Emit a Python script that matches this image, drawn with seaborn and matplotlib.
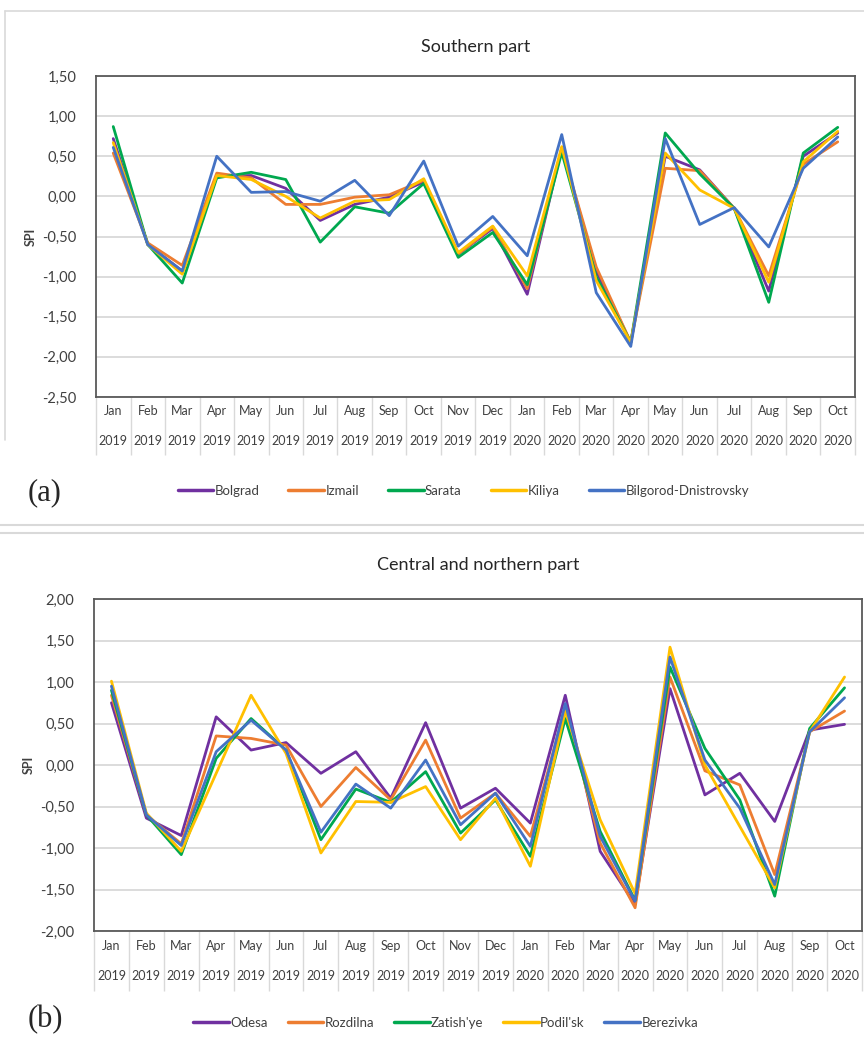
# SPI par station, sud et centre/nord (2019-2020)

import numpy as np
import pandas as pd
import matplotlib
matplotlib.use("Agg")
import matplotlib.pyplot as plt
import seaborn as sns
from matplotlib.ticker import FuncFormatter
from matplotlib.lines import Line2D

months = ["Jan", "Feb", "Mar", "Apr", "May", "Jun", "Jul", "Aug", "Sep", "Oct", "Nov", "Dec",
          "Jan", "Feb", "Mar", "Apr", "May", "Jun", "Jul", "Aug", "Sep", "Oct"]
years = ["2019", "2019", "2019", "2019", "2019", "2019", "2019", "2019", "2019", "2019", "2019", "2019",
         "2020", "2020", "2020", "2020", "2020", "2020", "2020", "2020", "2020", "2020"]

# (a) partie sud
south_names = ["Bolgrad", "Izmail", "Sarata", "Kiliya", "Bilgorod-Dnistrovsky"]
bolgrad = [0.72, -0.60, -0.93, 0.25, 0.26, 0.10, -0.30, -0.10, -0.01, 0.18, -0.72, -0.40,
           -1.22, 0.60, -0.93, -1.82, 0.50, 0.33, -0.15, -1.18, 0.50, 0.79]
izmail = [0.54, -0.58, -0.86, 0.29, 0.23, -0.10, -0.10, -0.01, 0.02, 0.20, -0.72, -0.38,
          -1.15, 0.60, -0.88, -1.82, 0.35, 0.32, -0.15, -0.99, 0.40, 0.68]
sarata = [0.87, -0.60, -1.08, 0.23, 0.30, 0.21, -0.57, -0.13, -0.21, 0.16, -0.76, -0.45,
          -1.10, 0.55, -1.00, -1.82, 0.79, 0.28, -0.15, -1.32, 0.54, 0.86]
kiliya = [0.67, -0.60, -0.97, 0.26, 0.21, 0.00, -0.27, -0.06, -0.04, 0.22, -0.70, -0.37,
          -0.99, 0.62, -1.05, -1.82, 0.54, 0.08, -0.15, -1.07, 0.43, 0.81]
bilgorod = [0.61, -0.60, -0.93, 0.50, 0.05, 0.06, -0.06, 0.20, -0.24, 0.44, -0.62, -0.25,
            -0.74, 0.77, -1.20, -1.87, 0.72, -0.35, -0.14, -0.63, 0.35, 0.74]

# (b) partie centrale et nord
central_names = ["Odesa", "Rozdilna", "Zatish'ye", "Podil'sk", "Berezivka"]
odesa = [0.75, -0.64, -0.85, 0.58, 0.18, 0.27, -0.10, 0.16, -0.40, 0.51, -0.52, -0.28,
         -0.70, 0.84, -1.04, -1.68, 0.92, -0.36, -0.10, -0.68, 0.42, 0.49]
rozdilna = [0.84, -0.60, -0.95, 0.35, 0.32, 0.24, -0.50, -0.03, -0.42, 0.30, -0.64, -0.34,
            -0.86, 0.70, -0.94, -1.72, 1.06, -0.07, -0.24, -1.32, 0.40, 0.65]
zatishye = [0.90, -0.60, -1.08, 0.08, 0.56, 0.18, -0.90, -0.29, -0.45, -0.08, -0.82, -0.42,
            -1.10, 0.56, -0.80, -1.63, 1.18, 0.20, -0.42, -1.58, 0.44, 0.93]
podilsk = [1.01, -0.58, -1.04, -0.10, 0.84, 0.14, -1.06, -0.44, -0.45, -0.26, -0.90, -0.40,
           -1.22, 0.65, -0.66, -1.55, 1.42, 0.00, -0.74, -1.48, 0.40, 1.06]
berezivka = [0.95, -0.60, -0.97, 0.16, 0.54, 0.18, -0.81, -0.23, -0.52, 0.06, -0.72, -0.34,
             -0.98, 0.74, -0.86, -1.64, 1.30, 0.06, -0.52, -1.44, 0.40, 0.81]

colors = ["#7030A0", "#ED7D31", "#00A84F", "#FFC000", "#4472C4"]

sns.set_style("white")
plt.rcParams['font.family'] = ['Lato', 'DejaVu Sans']
txt = "#404040"


def long_df(names, series):
    rows = []
    for name, vals in zip(names, series):
        for i, v in enumerate(vals):
            rows.append((i, v, name))
    return pd.DataFrame(rows, columns=["idx", "spi", "station"])


def draw_panel(ax, df, names, title, ylim, title_pad, leg_y, leg_x, colsp):
    sns.lineplot(data=df, x="idx", y="spi", hue="station", hue_order=names,
                 palette=colors, linewidth=2.0, sort=False, ax=ax, legend=False)
    ax.set_xlim(-0.5, len(months) - 0.5)
    ax.set_ylim(*ylim)
    ax.set_yticks(np.arange(ylim[0], ylim[1] + 0.01, 0.5))
    ax.yaxis.set_major_formatter(FuncFormatter(lambda v, p: f"{v:.2f}".replace(".", ",")))
    ax.tick_params(axis="y", length=0, pad=14, labelsize=10.5, labelcolor=txt)
    ax.set_xticks([])
    ax.set_xlabel("")
    ax.set_ylabel("SPI", fontsize=9, fontweight="bold", color=txt, labelpad=4)
    ax.yaxis.grid(True, color="#D9D9D9", linewidth=1.3)
    ax.set_axisbelow(True)
    for s in ax.spines.values():
        s.set_color("#595959")
        s.set_linewidth(1.3)
    ax.set_title(title, fontsize=13, color="#262626", pad=title_pad)

    # axe de catégories à deux niveaux
    tr = ax.get_xaxis_transform()
    for i, (m, y) in enumerate(zip(months, years)):
        ax.text(i, -0.045, m, transform=tr, ha="center", va="center", fontsize=9, color=txt)
        ax.text(i, -0.137, y, transform=tr, ha="center", va="center", fontsize=9, color=txt)
    ax.vlines(np.arange(len(months) + 1) - 0.5, -0.18, 0, transform=tr,
              color="#D9D9D9", linewidth=1, clip_on=False)

    handles = [Line2D([], [], color=c, linewidth=2.5) for c in colors]
    ax.legend(handles, names, loc="center", bbox_to_anchor=(leg_x, leg_y), ncol=5,
              frameon=False, fontsize=9.5, handlelength=2.7, handletextpad=0.1,
              columnspacing=colsp, labelcolor=txt)


fig = plt.figure(figsize=(8.64, 10.48), dpi=100)
ax1 = fig.add_axes([96 / 864, 1 - 397 / 1048, 759 / 864, 321 / 1048])
ax2 = fig.add_axes([94 / 864, 1 - 931 / 1048, 768 / 864, 332 / 1048])

draw_panel(ax1, long_df(south_names, [bolgrad, izmail, sarata, kiliya, bilgorod]),
           south_names, "Southern part", (-2.5, 1.5), 17, -0.293, 0.484, 2.2)
draw_panel(ax2, long_df(central_names, [odesa, rozdilna, zatishye, podilsk, berezivka]),
           central_names, "Central and northern part", (-2.0, 2.0), 21, -0.277, 0.458, 1.5)

serif = ['Liberation Serif', 'DejaVu Serif']
fig.text(45 / 864, 1 - 493 / 1048, "(a)", fontsize=22, family=serif, ha="center", va="center")
fig.text(45 / 864, 1 - 1020 / 1048, "(b)", fontsize=22, family=serif, ha="center", va="center")

# cadres gris clair autour des panneaux
grey = "#D9D9D9"
fig.add_artist(Line2D([5 / 864, 1], [1 - 11 / 1048] * 2, color=grey, lw=1.2))
fig.add_artist(Line2D([5 / 864] * 2, [1 - 11 / 1048, 1 - 440 / 1048], color=grey, lw=1.2))
fig.add_artist(Line2D([0, 1], [1 - 525 / 1048] * 2, color=grey, lw=1.5))
fig.add_artist(Line2D([0, 1], [1 - 533 / 1048] * 2, color=grey, lw=1.5))

fig.savefig("out.png", dpi=100)
